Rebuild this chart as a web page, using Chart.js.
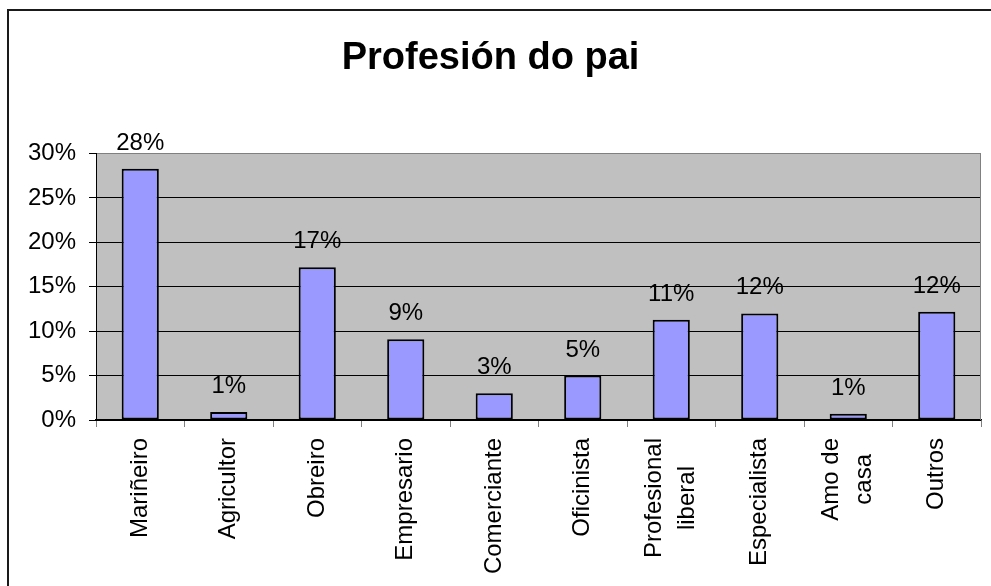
<!DOCTYPE html>
<html>
<head>
<meta charset="utf-8">
<script src="https://cdn.jsdelivr.net/npm/chart.js@4.4.1/dist/chart.umd.min.js"></script>
<style>
  html, body { margin: 0; padding: 0; background: #fff; }
  #wrap { width: 991px; height: 586px; }
</style>
</head>
<body>
<div id="wrap"><canvas id="c" width="991" height="586"></canvas></div>
<script>
const chartTitle = 'Profesión do pai';
const categories = ['Mariñeiro', 'Agricultor', 'Obreiro', 'Empresario', 'Comerciante', 'Oficinista', ['Profesional', 'liberal'], 'Especialista', ['Amo de', 'casa'], 'Outros'];
const values = [28.3, 0.9, 17.2, 9.1, 3.0, 5.0, 11.3, 12.0, 0.7, 12.2];
const yTicks = [0, 5, 10, 15, 20, 25, 30];

const FONT = "'Liberation Sans', Arial, Helvetica, sans-serif";

const framePlugin = {
  id: 'frame',
  beforeDraw(chart) {
    const { ctx, chartArea: a } = chart;
    ctx.save();
    ctx.fillStyle = '#ffffff';
    ctx.fillRect(0, 0, chart.width, chart.height);
    ctx.strokeStyle = '#1a1a1a';
    ctx.lineWidth = 2;
    ctx.beginPath();
    ctx.moveTo(8, chart.height);
    ctx.lineTo(8, 10);
    ctx.lineTo(chart.width, 10);
    ctx.stroke();
    ctx.fillStyle = '#c0c0c0';
    ctx.fillRect(a.left, a.top, a.right - a.left, a.bottom - a.top);
    ctx.restore();
  },
  afterDraw(chart) {
    const { ctx, chartArea: a } = chart;
    ctx.save();
    ctx.strokeStyle = '#808080';
    ctx.lineWidth = 1;
    ctx.beginPath();
    ctx.moveTo(a.right - 0.5, a.top);
    ctx.lineTo(a.right - 0.5, a.bottom);
    ctx.stroke();
    ctx.restore();
  }
};

// Category labels: rotated 90°, multi-line labels centred on the tick with lines centred on each other
const catLabels = {
  id: 'catLabels',
  afterDraw(chart) {
    const { ctx } = chart;
    const xs = chart.scales.x;
    const topY = xs.top + 18;
    const lineGap = 33;
    ctx.save();
    ctx.font = '24px ' + FONT;
    ctx.fillStyle = '#000';
    ctx.textBaseline = 'middle';
    chart.data.labels.forEach((lab, i) => {
      const lines = Array.isArray(lab) ? lab : [lab];
      const px = xs.getPixelForTick(i);
      const widths = lines.map(l => ctx.measureText(l).width);
      const maxW = Math.max(...widths);
      const n = lines.length;
      lines.forEach((line, j) => {
        const cx = px + (j - (n - 1) / 2) * lineGap;
        const cy = topY + maxW / 2; // centre of the longest line
        ctx.save();
        ctx.translate(cx, cy);
        ctx.rotate(-Math.PI / 2);
        ctx.textAlign = 'center';
        ctx.fillText(line, 0, 0);
        ctx.restore();
      });
    });
    ctx.restore();
  }
};

const valueLabels = {
  id: 'valueLabels',
  afterDatasetsDraw(chart) {
    const { ctx } = chart;
    const meta = chart.getDatasetMeta(0);
    ctx.save();
    ctx.font = '24px ' + FONT;
    ctx.fillStyle = '#000';
    ctx.textAlign = 'center';
    ctx.textBaseline = 'alphabetic';
    meta.data.forEach((bar, i) => {
      ctx.fillText(Math.round(values[i]) + '%', bar.x, bar.y - 19);
    });
    ctx.restore();
  }
};

new Chart(document.getElementById('c'), {
  type: 'bar',
  data: {
    labels: categories,
    datasets: [{
      data: values,
      backgroundColor: '#9999ff',
      borderColor: '#000000',
      borderWidth: 2,
      borderSkipped: false,
      categoryPercentage: 1.0,
      barPercentage: 0.42
    }]
  },
  options: {
    responsive: false,
    devicePixelRatio: 1,
    animation: false,
    layout: { padding: { left: 0, right: 10, top: 0, bottom: 0 } },
    plugins: {
      legend: { display: false },
      tooltip: { enabled: false },
      title: {
        display: true,
        text: chartTitle,
        color: '#000',
        font: { family: FONT, size: 38, weight: 'bold', lineHeight: 1.2 },
        padding: { top: 36, bottom: 72 }
      }
    },
    scales: {
      x: {
        offset: true,
        grid: {
          display: true,
          drawOnChartArea: false,
          drawTicks: true,
          tickLength: 7,
          color: '#808080',
          offset: true
        },
        border: { display: true, color: '#000', width: 1.5 },
        ticks: {
          autoSkip: false,
          minRotation: 90,
          maxRotation: 90,
          padding: 11,
          color: 'rgba(0,0,0,0)',
          font: { family: FONT, size: 24, lineHeight: 1.15 }
        },
        afterFit(scale) { scale.height = 166; }
      },
      y: {
        min: 0,
        max: 30,
        afterBuildTicks(scale) { scale.ticks = yTicks.map(v => ({ value: v })); },
        grid: {
          color: (c) => (c.tick && c.tick.value === 30) ? '#808080' : '#000000',
          tickColor: '#000000',
          tickLength: 7,
          lineWidth: 1
        },
        border: { display: true, color: '#000', width: 1 },
        ticks: {
          padding: 13,
          color: '#000',
          font: { family: FONT, size: 24 },
          callback: (v) => v + '%'
        },
        afterFit(scale) { scale.width = 96; }
      }
    }
  },
  plugins: [framePlugin, valueLabels, catLabels]
});
</script>
</body>
</html>
